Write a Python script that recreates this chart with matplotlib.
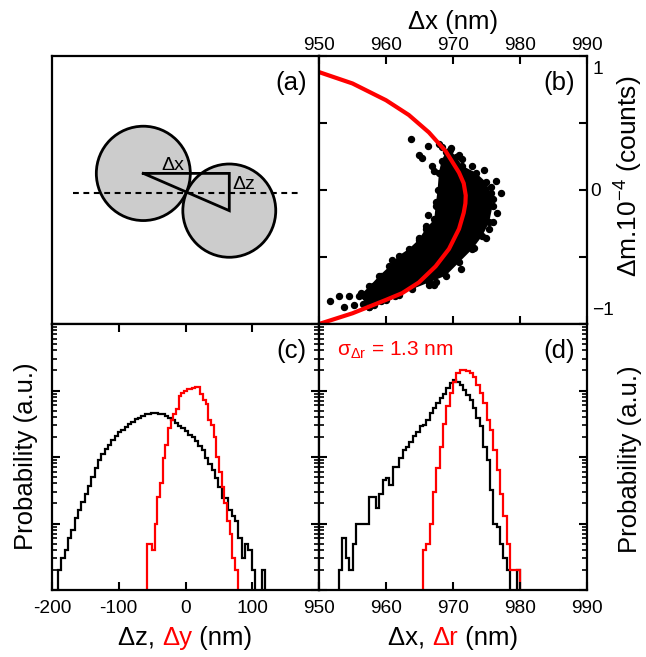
import numpy as np
import matplotlib.pyplot as plt
from matplotlib.patches import Circle
from matplotlib.offsetbox import TextArea, HPacker, AnnotationBbox

plt.rcParams['font.family'] = ['Liberation Sans', 'DejaVu Sans']
plt.rcParams['mathtext.fontset'] = 'custom'
plt.rcParams['mathtext.rm'] = 'Liberation Sans'
plt.rcParams['mathtext.it'] = 'Liberation Sans:italic'
plt.rcParams['mathtext.bf'] = 'Liberation Sans:bold'

RED = '#ff0000'
GRAY = '#cccccc'

# --- (a) sketch of the dimer, in axes units ---
circle_centers = [(0.342, 0.562), (0.664, 0.423)]
circle_radii = [0.176, 0.174]
axis_line_x = [0.078, 0.929]
axis_line_y = 0.49

# --- (b) mass shift vs separation ---
# dense part of the cloud (outline)
core_x = [956.0, 957.5, 959.0, 960.5, 961.9, 963.4, 964.9, 965.9, 967.2, 967.4,
          967.7, 967.9, 968.3, 968.9, 969.6, 970.4, 971.4, 973.4, 974.9, 975.6,
          975.9, 975.4, 974.4, 972.9, 970.9, 968.9, 966.4, 963.9, 961.9, 960.0,
          957.5]
core_y = [-0.79, -0.72, -0.64, -0.57, -0.49, -0.44, -0.37, -0.29, -0.22, -0.12,
          0.00, 0.13, 0.22, 0.28, 0.30, 0.25, 0.18, 0.13, 0.06, -0.02,
          -0.12, -0.24, -0.34, -0.44, -0.54, -0.64, -0.69, -0.74, -0.78, -0.82,
          -0.87]
# sparse events around the cloud
spot_x = [951.7, 953.0, 953.7, 954.5, 955.2, 956.2, 956.5, 957.5, 958.2, 959.2,
          960.5, 961.4, 959.2, 958.0, 960.9, 964.9, 965.9, 966.2, 967.4, 963.7,
          966.2, 964.9, 965.3, 966.9, 967.2, 967.9, 968.4, 969.7, 970.9, 971.4,
          972.9, 974.6, 976.4, 977.1, 976.6, 975.9, 975.4, 974.9, 973.1, 971.2,
          967.4, 967.2, 966.4, 975.9, 975.6]
spot_y = [-0.83, -0.79, -0.87, -0.79, -0.86, -0.77, -0.85, -0.87, -0.86, -0.83,
          -0.79, -0.79, -0.64, -0.72, -0.52, -0.36, -0.27, -0.19, -0.09, 0.38,
          0.33, 0.26, 0.24, 0.18, 0.14, 0.34, 0.32, 0.31, 0.26, 0.23,
          0.18, 0.15, 0.07, -0.02, -0.17, -0.24, -0.29, -0.36, -0.43, -0.59,
          -0.69, -0.71, -0.71, -0.07, 0.02]
# fitted curve
fit_y = [0.95, 0.88, 0.795, 0.67, 0.56, 0.43, 0.29, 0.13, 0.05, -0.04, -0.10,
         -0.17, -0.29, -0.44, -0.57, -0.69, -0.77, -0.82, -0.92, -1.00, -1.05]
fit_x = [946.5, 950.0, 955.0, 960.0, 963.4, 966.4, 968.9, 970.9, 971.6, 971.9,
         971.85, 971.6, 970.9, 969.4, 967.4, 964.9, 962.4, 960.0, 955.0, 950.0,
         947.0]

# --- (c) histograms of dz (black) and dy (red) ---
dz_start, dz_width = -191.0, 5.0
dz_counts = [2, 3, 4, 6, 8, 12, 16, 21, 28, 37, 50, 68, 91, 110, 132, 151, 178,
             204, 234, 257, 282, 309, 339, 372, 389, 417, 437, 442, 457, 457,
             447, 437, 417, 389, 355, 324, 295, 275, 245, 214, 200, 174, 148,
             126, 95, 79, 63, 48, 35, 24, 24, 16, 13, 11, 6, 3, 5, 4, 2, 0, 0, 2]
dy_start, dy_width = -58.0, 4.0
dy_counts = [5, 5, 4, 10, 25, 41, 95, 151, 269, 355, 447, 525, 813, 933, 1000,
             1047, 1047, 1072, 1122, 1148, 891, 724, 631, 355, 302, 200, 100,
             60, 35, 20, 11, 7, 3, 2]

# --- (d) histograms of dx (black) and dr (red) ---
dx_start, dx_width = 953.0, 0.5
dx_counts = [2, 6, 3, 2, 5, 10, 10, 10, 10, 25, 25, 17, 28, 45, 48, 38, 71, 71,
             95, 129, 141, 166, 204, 240, 288, 302, 363, 457, 537, 646, 759, 891,
             1072, 1288, 1445, 1349, 1202, 1023, 851, 724, 537, 380, 288, 141,
             89, 32, 10, 9, 5, 3, 2, 0, 0, 2]
dr_start, dr_width = 965.5, 0.5
dr_counts = [4, 5, 10, 30, 68, 141, 316, 575, 933, 1349, 1820, 2042, 2042, 1995,
             1820, 1622, 1202, 912, 646, 363, 257, 129, 63, 28, 13, 5, 2, 2, 2]

fig = plt.figure(figsize=(6.46, 6.57), dpi=100)
L, M, R = 52 / 646, 319 / 646, 587 / 646
T, C, B = 1 - 56 / 657, 1 - 324 / 657, 1 - 590 / 657
ax_a = fig.add_axes([L, C, M - L, T - C])
ax_b = fig.add_axes([M, C, R - M, T - C])
ax_c = fig.add_axes([L, B, M - L, C - B])
ax_d = fig.add_axes([M, B, R - M, C - B])

for ax in (ax_a, ax_b, ax_c, ax_d):
    for sp in ax.spines.values():
        sp.set_linewidth(1.6)
    ax.tick_params(which='major', direction='in', length=6, width=1.5,
                   labelsize=13.8)
    ax.tick_params(which='minor', direction='in', length=3.5, width=1.2)

LABEL_FS = 18.5

# (a)
ax_a.set_xlim(0, 1)
ax_a.set_ylim(0, 1)
ax_a.set_xticks([])
ax_a.set_yticks([])
for (cx, cy), r in zip(circle_centers, circle_radii):
    ax_a.add_patch(Circle((cx, cy), r, facecolor=GRAY, edgecolor='black',
                          lw=2, zorder=1))
ax_a.plot(axis_line_x, [axis_line_y, axis_line_y], color='black', lw=1.5,
          linestyle=(0, (2.8, 2.2)), zorder=2)
(x1, y1), (x2, y2) = circle_centers
ax_a.plot([x1, x2, x2, x1], [y1, y1, y2, y1], color='black', lw=2,
          solid_joinstyle='miter', zorder=3)
ax_a.text(0.452, 0.59, 'Δx', fontsize=14, ha='center', va='center', zorder=4)
ax_a.text(0.719, 0.522, 'Δz', fontsize=14, ha='center', va='center', zorder=4)

# (b)
ax_b.fill(core_x, core_y, color='black', lw=0, zorder=1)
ax_b.plot(core_x, core_y, 'o', color='black', ms=4.3, zorder=1)
ax_b.plot(spot_x, spot_y, 'o', color='black', ms=4.3, zorder=1)
ax_b.plot(fit_x, fit_y, color=RED, lw=3, zorder=2)
ax_b.set_xlim(950, 990)
ax_b.set_ylim(-1, 1)
ax_b.set_xticks([950, 960, 970, 980, 990])
ax_b.set_yticks([-1, -0.5, 0, 0.5, 1])
ax_b.set_yticklabels(['', '', '0', '', ''])
ax_b.tick_params(axis='x', top=True, bottom=True, labeltop=True,
                 labelbottom=False, pad=1.5)
ax_b.tick_params(axis='y', left=True, right=True, labelleft=False,
                 labelright=True, pad=2)
# end labels of the right axis sit just inside the corners
ax_b.text(1.022, 0.948, '1', transform=ax_b.transAxes, fontsize=13.8,
          ha='left', va='center')
ax_b.text(1.018, 0.05, '\u22121', transform=ax_b.transAxes, fontsize=13.8,
          ha='left', va='center')
ax_b.text(0.5, 1.125, 'Δx (nm)', transform=ax_b.transAxes, fontsize=LABEL_FS,
          ha='center', va='center')
ax_b.text(1.157, 0.55, 'Δm.10$^{-4}$ (counts)', transform=ax_b.transAxes,
          fontsize=19, rotation=90, ha='center', va='center')


def draw_hist(ax, start, width, counts, color):
    counts = np.asarray(counts, dtype=float)
    edges = start + width * np.arange(len(counts) + 1)
    ax.stairs(np.clip(counts, 0.1, None), edges, baseline=0.1, color=color,
              lw=1.6)


# (c)
draw_hist(ax_c, dz_start, dz_width, dz_counts, 'black')
draw_hist(ax_c, dy_start, dy_width, dy_counts, RED)
ax_c.set_yscale('log')
ax_c.set_ylim(1, 1e4)
ax_c.set_xlim(-200, 200)
ax_c.set_xticks([-200, -100, 0, 100, 200])
ax_c.set_xticklabels(['-200', '-100', '0', '100', ''])
ax_c.tick_params(axis='x', top=True, bottom=True, pad=7)
ax_c.tick_params(axis='y', which='both', left=True, right=True,
                 labelleft=False)
ax_c.text(-0.097, 0.504, 'Probability (a.u.)', transform=ax_c.transAxes,
          fontsize=LABEL_FS, rotation=90, ha='center', va='center')

# (d)
draw_hist(ax_d, dx_start, dx_width, dx_counts, 'black')
draw_hist(ax_d, dr_start, dr_width, dr_counts, RED)
ax_d.set_yscale('log')
ax_d.set_ylim(1, 1e4)
ax_d.set_xlim(950, 990)
ax_d.set_xticks([950, 960, 970, 980, 990])
ax_d.tick_params(axis='x', top=False, bottom=True, pad=7)
ax_d.tick_params(axis='y', which='both', left=True, right=True,
                 labelleft=False)
ax_d.text(1.16, 0.49, 'Probability (a.u.)', transform=ax_d.transAxes,
          fontsize=LABEL_FS, rotation=90, ha='center', va='center')
ax_d.text(0.284, 0.902, r'$\mathrm{\sigma}_{\mathrm{\Delta r}}$ = 1.3 nm',
          transform=ax_d.transAxes, color=RED, fontsize=15, ha='center',
          va='center')


def two_colour_label(ax, parts, y):
    boxes = [TextArea(s, textprops=dict(color=c, fontsize=LABEL_FS))
             for s, c in parts]
    pack = HPacker(children=boxes, pad=0, sep=0, align='baseline')
    ab = AnnotationBbox(pack, (0.5, y), xycoords='axes fraction',
                        box_alignment=(0.5, 0.5), frameon=False)
    ax.add_artist(ab)


two_colour_label(ax_c, [('Δz, ', 'black'), ('Δy', RED), (' (nm)', 'black')],
                 -0.18)
two_colour_label(ax_d, [('Δx, ', 'black'), ('Δr', RED), (' (nm)', 'black')],
                 -0.18)

# panel tags
for ax, tag in ((ax_a, '(a)'), (ax_b, '(b)'), (ax_c, '(c)'), (ax_d, '(d)')):
    ax.text(0.895, 0.90, tag, transform=ax.transAxes, fontsize=LABEL_FS,
            ha='center', va='center', zorder=5)

fig.savefig('out.png', dpi=100)
